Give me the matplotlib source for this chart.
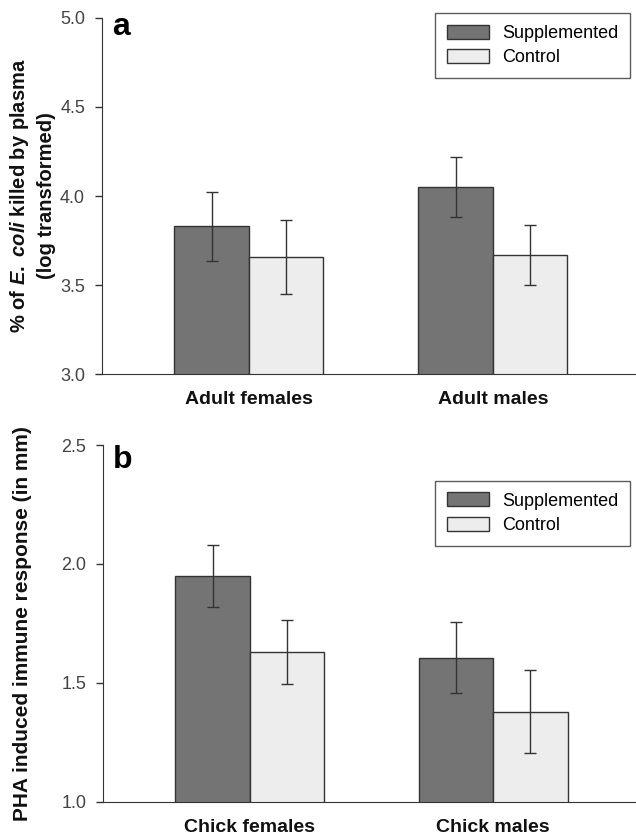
import numpy as np
import matplotlib.pyplot as plt

plt.rcParams['font.family'] = ['Liberation Sans', 'DejaVu Sans']
plt.rcParams['mathtext.fontset'] = 'custom'
plt.rcParams['mathtext.rm'] = 'Liberation Sans:bold'
plt.rcParams['mathtext.it'] = 'Liberation Sans:italic:bold'
plt.rcParams['mathtext.bf'] = 'Liberation Sans:bold'

groups_a = ['Adult females', 'Adult males']
supp_a = [3.83, 4.05]
supp_a_err = [0.195, 0.167]
ctrl_a = [3.657, 3.669]
ctrl_a_err = [0.207, 0.17]

groups_b = ['Chick females', 'Chick males']
supp_b = [1.95, 1.606]
supp_b_err = [0.13, 0.15]
ctrl_b = [1.63, 1.38]
ctrl_b_err = [0.133, 0.175]

SUPP_COLOR = '#747474'
CTRL_COLOR = '#ededed'
EDGE = '#333333'

fig = plt.figure(figsize=(6.36, 8.36), dpi=100)
ax_a = fig.add_axes([0.160, 0.5526, 0.840, 0.4259])
ax_b = fig.add_axes([0.162, 0.0407, 0.838, 0.4270])


def draw_panel(ax, groups, supp, supp_err, ctrl, ctrl_err, ylim, yticks, ylabel, letter,
               letter_y, leg_y, labelpad, label_size):
    x = np.arange(len(groups))
    w = 0.305
    ax.bar(x - w / 2, supp, w, color=SUPP_COLOR, edgecolor=EDGE, linewidth=1.0,
           label='Supplemented', zorder=2)
    ax.bar(x + w / 2, ctrl, w, color=CTRL_COLOR, edgecolor=EDGE, linewidth=1.0,
           label='Control', zorder=2)
    ax.errorbar(x - w / 2, supp, yerr=supp_err, fmt='none', ecolor='#333333',
                elinewidth=1.0, capsize=4, capthick=1.0, zorder=3)
    ax.errorbar(x + w / 2, ctrl, yerr=ctrl_err, fmt='none', ecolor='#333333',
                elinewidth=1.0, capsize=4, capthick=1.0, zorder=3)
    ax.set_ylim(*ylim)
    ax.set_xlim(-0.602, 1.586)
    ax.set_yticks(yticks)
    ax.set_yticklabels(['%.1f' % t for t in yticks])
    ax.set_xticks(x)
    ax.set_xticklabels(groups, fontsize=14, fontweight='bold')
    ax.tick_params(axis='x', length=0, pad=12)
    ax.tick_params(axis='y', direction='out', length=5, width=1, colors='#333333',
                   labelsize=13, labelcolor='#444444', pad=7)
    for lab in ax.get_xticklabels():
        lab.set_color('#111111')
    ax.spines['top'].set_visible(False)
    ax.spines['right'].set_visible(False)
    ax.spines['left'].set_color('#333333')
    ax.spines['bottom'].set_color('#333333')
    ax.set_ylabel(ylabel, fontsize=label_size, fontweight='bold', labelpad=labelpad,
                  color='#111111', linespacing=1.4)
    ax.text(0.019, letter_y, letter, transform=ax.transAxes, fontsize=23,
            fontweight='bold', va='baseline', ha='left')
    leg = ax.legend(loc='upper right', bbox_to_anchor=(0.989, leg_y), fontsize=13,
                    frameon=True, fancybox=False, edgecolor='#333333',
                    handlelength=2.3, handleheight=0.8, borderpad=0.65,
                    labelspacing=0.4, handletextpad=0.75, borderaxespad=0)
    leg.get_frame().set_linewidth(1.0)


draw_panel(ax_a, groups_a, supp_a, supp_a_err, ctrl_a, ctrl_a_err, (3.0, 5.0),
           [3.0, 3.5, 4.0, 4.5, 5.0],
           '% of $\\mathit{E.\\ coli}$ killed by plasma\n(log transformed)', 'a',
           0.952, 1.014, 3, 14.5)
draw_panel(ax_b, groups_b, supp_b, supp_b_err, ctrl_b, ctrl_b_err, (1.0, 2.5),
           [1.0, 1.5, 2.0, 2.5],
           'PHA induced immune response (in mm)', 'b', 0.936, 0.90, 21, 15)

fig.savefig('out.png', dpi=100)
